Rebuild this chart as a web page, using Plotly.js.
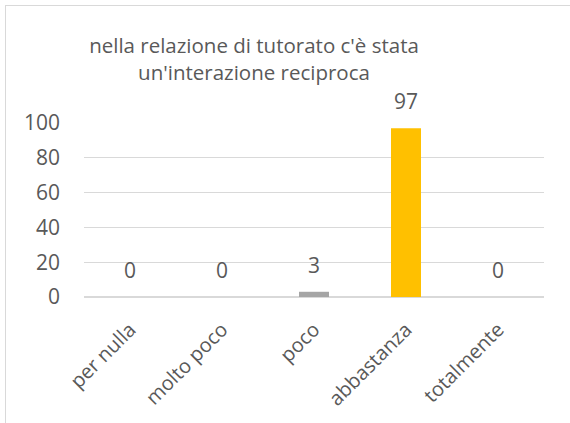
<!DOCTYPE html>
<html>
<head>
<meta charset="utf-8">
<script src="https://cdn.plot.ly/plotly-3.0.1.min.js"></script>
<style>
  html, body { margin: 0; padding: 0; background: #fff; }
  #wrap { position: relative; width: 570px; height: 423px; }
  #chart { width: 570px; height: 423px; }
  #frame { position: absolute; left: 5px; top: 5px; right: 0; bottom: 0;
           border-left: 1px solid #D9D9D9; border-top: 1px solid #D9D9D9;
           pointer-events: none; }
</style>
</head>
<body>
<div id="wrap">
  <div id="chart"></div>
  <div id="frame"></div>
</div>
<script>
const categories = ["per nulla", "molto poco", "poco", "abbastanza", "totalmente"];
const values = [0, 0, 3, 97, 0];
const barColors = ["#4472C4", "#ED7D31", "#A5A5A5", "#FFC000", "#5B9BD5"];
const yTicks = [0, 20, 40, 60, 80, 100];
const titleText = "nella relazione di tutorato c'è stata<br>un'interazione reciproca";

const textColor = "#595959";
const fontFamily = "'Open Sans', 'Noto Sans', sans-serif";

const trace = {
  type: "bar",
  x: categories,
  y: values,
  marker: { color: barColors },
  hoverinfo: "x+y"
};

const annotations = categories.map((c, i) => ({
  x: c,
  y: values[i],
  xref: "x",
  yref: "y",
  text: String(values[i]),
  showarrow: false,
  yanchor: "bottom",
  yshift: 11,
  font: { family: fontFamily, size: 21, color: textColor }
}));

const layout = {
  width: 570,
  height: 423,
  margin: { l: 84, r: 26, t: 123, b: 126 },
  paper_bgcolor: "#ffffff",
  plot_bgcolor: "#ffffff",
  showlegend: false,
  bargap: 0.674,
  title: {
    text: titleText,
    font: { family: fontFamily, size: 20.5, color: textColor },
    x: 254 / 570,
    xref: "container",
    xanchor: "center",
    y: 1 - 53 / 423,
    yref: "container",
    yanchor: "middle"
  },
  xaxis: {
    type: "category",
    tickangle: -45,
    showgrid: false,
    showline: false,
    ticks: "",
    ticklabelstandoff: 16,
    tickfont: { family: fontFamily, size: 20, color: textColor },
    fixedrange: true
  },
  yaxis: {
    range: [0, 100],
    tickvals: yTicks,
    ticktext: yTicks.map(String),
    showgrid: true,
    gridcolor: "#D9D9D9",
    gridwidth: 1.3,
    zeroline: true,
    zerolinecolor: "#D9D9D9",
    zerolinewidth: 1.3,
    showline: false,
    ticks: "",
    ticklabelstandoff: 23,
    tickfont: { family: fontFamily, size: 21, color: textColor },
    fixedrange: true
  },
  annotations: annotations
};

Plotly.newPlot("chart", [trace], layout, { displayModeBar: false, staticPlot: true });
</script>
</body>
</html>
